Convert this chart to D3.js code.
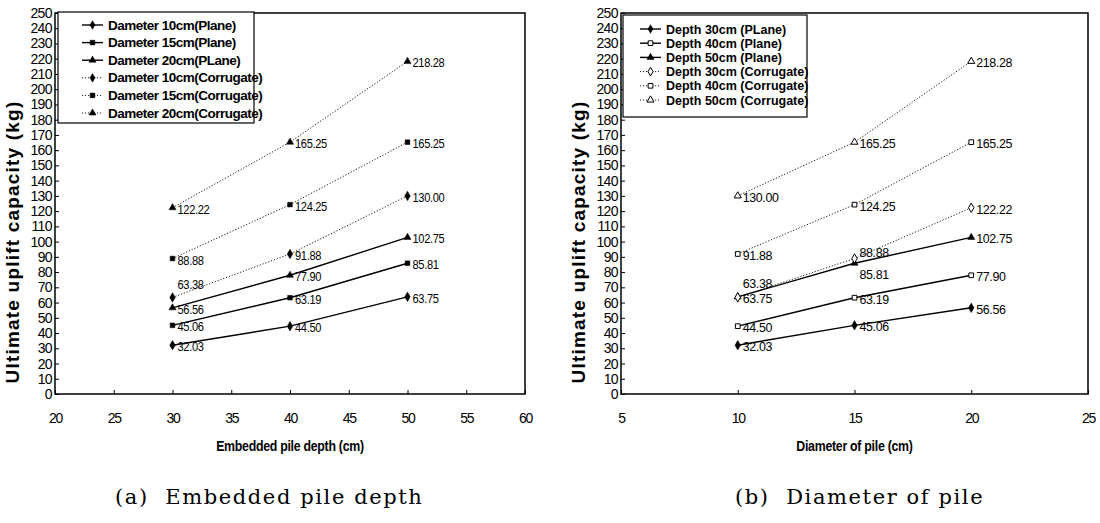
<!DOCTYPE html>
<html>
<head>
<meta charset="utf-8">
<script src="https://cdn.jsdelivr.net/npm/d3@7"></script>
<style>
  body { margin: 0; background: #fff; }
  svg { display: block; }
</style>
</head>
<body>
<svg id="chart" width="1100" height="523"></svg>
<script>
// values (kg)
let depths = [30, 40, 50]
let diameters = [10, 15, 20]
let depthTicks = [20, 25, 30, 35, 40, 45, 50, 55, 60]
let diameterTicks = [5, 10, 15, 20, 25]
let yTicks = d3.range(0, 251, 10)

// rows: diameter 10 / 15 / 20 cm, columns: depth 30 / 40 / 50 cm
let plane10 = [32.03, 44.50, 63.75]
let plane15 = [45.06, 63.19, 85.81]
let plane20 = [56.56, 77.90, 102.75]
let corr10 = [63.38, 91.88, 130.00]
let corr15 = [88.88, 124.25, 165.25]
let corr20 = [122.22, 165.25, 218.28]

let legendA = ['Dameter 10cm(Plane)', 'Dameter 15cm(Plane)', 'Dameter 20cm(PLane)',
  'Dameter 10cm(Corrugate)', 'Dameter 15cm(Corrugate)', 'Dameter 20cm(Corrugate)']
let legendB = ['Depth 30cm (PLane)', 'Depth 40cm (Plane)', 'Depth 50cm (Plane)',
  'Depth 30cm (Corrugate)', 'Depth 40cm (Corrugate)', 'Depth 50cm (Corrugate)']

let planeRows = [plane10, plane15, plane20]
let corrRows = [corr10, corr15, corr20]
let transpose = rows => rows[0].map((_, j) => rows.map(r => r[j]))

const svg = d3.select('#chart')
const shapes = [d3.symbolDiamond, d3.symbolSquare, d3.symbolTriangle]
const sans = 'Liberation Sans, Arial, sans-serif'

// squeeze glyphs horizontally (the scan uses a condensed face)
function condense(sel, f) {
  sel.each(function() {
    let w = this.getComputedTextLength()
    d3.select(this).attr('textLength', w * f).attr('lengthAdjust', 'spacingAndGlyphs')
  })
}

function panel(opt) {
  let x = d3.scaleLinear().domain(opt.xDomain).range([opt.left, opt.right])
  let y = d3.scaleLinear().domain([0, 250]).range([394, 13])
  let g = svg.append('g')

  // series
  let series = []
  opt.plane.forEach((v, i) => series.push({ v, i, dotted: false, open: opt.openPlane[i] }))
  opt.corr.forEach((v, i) => series.push({ v, i, dotted: true, open: opt.openCorr[i] }))

  let line = d3.line().x((d, k) => x(opt.xs[k])).y(d => y(d))
  g.selectAll('path.series').data(series).join('path')
    .attr('class', 'series')
    .attr('d', d => line(d.v))
    .attr('fill', 'none')
    .attr('stroke', '#000')
    .attr('stroke-width', d => d.dotted ? 0.9 : 1.4)
    .attr('stroke-dasharray', d => d.dotted ? '1.2,1.8' : null)

  series.forEach(s => {
    s.v.forEach((val, k) => {
      g.append('path')
        .attr('d', d3.symbol(shapes[s.i], s.i === 0 ? 26 : 22)())
        .attr('transform', `translate(${x(opt.xs[k])},${y(val)})`)
        .attr('fill', s.open ? '#fff' : '#000')
        .attr('stroke', '#000')
        .attr('stroke-width', s.open ? 1 : 0.5)
      let off = opt.nudge[val.toFixed(2) + '@' + k] || [0, 0]
      g.append('text')
        .attr('class', 'vlabel')
        .attr('x', x(opt.xs[k]) + 5 + off[0])
        .attr('y', y(val) + 6 + off[1])
        .attr('font-family', sans)
        .attr('font-size', 13.5)
        .attr('letter-spacing', -0.4)
        .text(val.toFixed(2))
    })
  })
  g.selectAll('text.vlabel').call(condense, opt.labelSqueeze)

  // frame
  g.append('rect')
    .attr('x', opt.left).attr('y', 13)
    .attr('width', opt.right - opt.left).attr('height', 381)
    .attr('fill', 'none').attr('stroke', '#000').attr('stroke-width', 1.5)

  g.append('g')
    .attr('transform', 'translate(0,394)')
    .call(d3.axisBottom(x).tickValues(opt.xTicks).tickSize(-4).tickPadding(19))
    .call(a => a.select('.domain').remove())
    .call(a => a.selectAll('text')
      .attr('font-family', sans)
      .attr('font-size', 14).attr('letter-spacing', -1.2).attr('fill', '#000'))

  g.append('g')
    .attr('transform', `translate(${opt.left},0)`)
    .call(d3.axisLeft(y).tickValues(yTicks).tickSize(-4).tickPadding(3))
    .call(a => a.select('.domain').remove())
    .call(a => a.selectAll('text')
      .attr('font-family', sans)
      .attr('font-size', 14).attr('letter-spacing', -0.6).attr('fill', '#000'))

  // axis titles
  g.append('text')
    .attr('transform', `translate(${opt.left - 36},242) rotate(-90)`)
    .attr('text-anchor', 'middle')
    .attr('font-family', sans)
    .attr('font-weight', 'bold')
    .attr('font-size', 19)
    .attr('letter-spacing', 1.2)
    .text('Ultimate uplift capacity (kg)')

  g.append('text')
    .attr('x', (opt.left + opt.right) / 2).attr('y', 451)
    .attr('text-anchor', 'middle')
    .attr('font-family', sans)
    .attr('font-weight', 'bold')
    .attr('font-size', 14)
    .attr('letter-spacing', -0.3)
    .text(opt.xTitle)
    .call(condense, 0.88)

  g.append('text')
    .attr('x', opt.capX).attr('y', 504)
    .attr('font-family', 'DejaVu Serif, serif')
    .attr('font-size', 21)
    .attr('letter-spacing', 1.6)
    .attr('xml:space', 'preserve')
    .style('white-space', 'pre')
    .text(opt.caption)

  // legend
  let lg = opt.legend
  g.append('rect')
    .attr('x', lg.x).attr('y', lg.y).attr('width', lg.w).attr('height', lg.h)
    .attr('fill', '#fff').attr('stroke', '#000').attr('stroke-width', 1.2)
  series.forEach((s, r) => {
    let cy = lg.y + lg.first + r * lg.step
    g.append('line')
      .attr('x1', lg.x + lg.lineX).attr('x2', lg.x + lg.lineX + 21)
      .attr('y1', cy).attr('y2', cy)
      .attr('stroke', '#000')
      .attr('stroke-width', s.dotted ? 0.9 : 1.4)
      .attr('stroke-dasharray', s.dotted ? '1.2,1.8' : null)
    g.append('path')
      .attr('d', d3.symbol(shapes[s.i], 22)())
      .attr('transform', `translate(${lg.x + lg.lineX + 10.5},${cy})`)
      .attr('fill', s.open ? '#fff' : '#000')
      .attr('stroke', '#000')
      .attr('stroke-width', s.open ? 1 : 0.5)
    g.append('text')
      .attr('x', lg.x + lg.lineX + 26).attr('y', cy + 4.5)
      .attr('font-family', 'Liberation Sans Narrow, Arial Narrow, sans-serif')
      .attr('font-weight', 'bold')
      .attr('font-size', lg.font)
      .attr('letter-spacing', lg.ls)
      .text(lg.labels[r])
  })
}

panel({
  left: 55, right: 525,
  xDomain: [20, 60], xTicks: depthTicks, xs: depths,
  plane: planeRows, corr: corrRows,
  openPlane: [false, false, false], openCorr: [false, false, false],
  nudge: { '63.38@0': [0, -14] },
  labelSqueeze: 0.82,
  xTitle: 'Embedded pile depth (cm)',
  caption: '(a)  Embedded pile depth', capX: 115,
  legend: { x: 58, y: 12, w: 196, h: 111, first: 13, step: 17.6, lineX: 24,
    font: 13.5, ls: -0.5, labels: legendA }
})

panel({
  left: 621, right: 1088,
  xDomain: [5, 25], xTicks: diameterTicks, xs: diameters,
  plane: transpose(planeRows), corr: transpose(corrRows),
  openPlane: [false, true, false], openCorr: [true, true, true],
  nudge: { '63.38@0': [0, -15], '88.88@1': [0, -8], '85.81@1': [0, 10] },
  labelSqueeze: 0.92,
  xTitle: 'Diameter of pile (cm)',
  caption: '(b)  Diameter of pile', capX: 735,
  legend: { x: 623, y: 15, w: 184, h: 102, first: 14, step: 14.2, lineX: 17,
    font: 12.5, ls: 0, labels: legendB }
})
</script>
</body>
</html>
